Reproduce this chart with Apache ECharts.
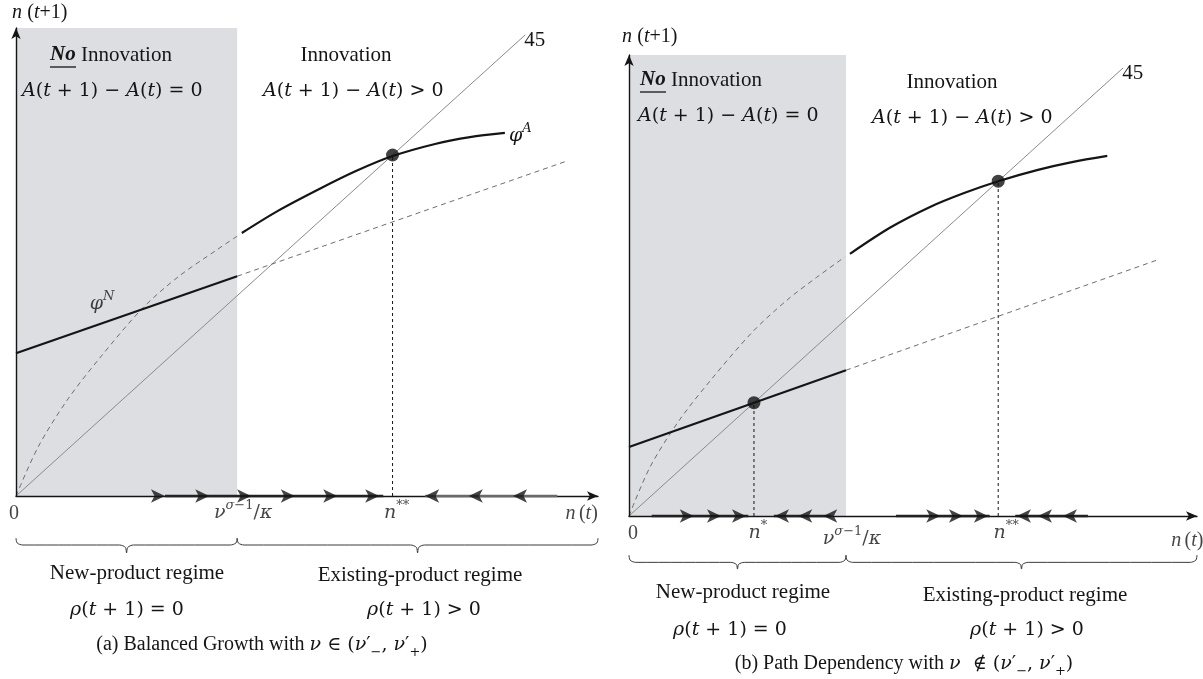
<!DOCTYPE html>
<html>
<head>
<meta charset="utf-8">
<script src="https://cdn.jsdelivr.net/npm/echarts@6/dist/echarts.min.js"></script>
<style>
  html, body { margin: 0; padding: 0; background: #fff; }
  #chart { width: 1203px; height: 679px; }
</style>
</head>
<body>
<div id="chart"></div>
<script>
// ---------- Panel (a): balanced growth ----------
const aThreshold = 3.8;                 // ν^{σ-1}/κ, end of the new-product regime
const aShadeTop = 8.88;
const aFortyFive = [[0, 0], [8.75, 8.75]];
const aPhiN = [[0, 2.71], [3.8, 4.17]];
const aPhiNDashed = [[3.8, 4.17], [9.45, 6.35]];
const aPhiADashed = [[0, 0], [0.38, 0.93], [0.88, 1.82], [1.44, 2.62], [2.18, 3.57], [2.8, 4.17], [3.45, 4.67], [3.8, 4.93]];
const aPhiA = [[3.88, 4.99], [4.5, 5.41], [5.22, 5.83], [5.85, 6.17], [6.47, 6.45], [7.2, 6.68], [7.8, 6.81], [8.4, 6.89]];
const aSteadyStates = [[6.47, 6.47]];
const aArrowsRight = [2.56, 3.32, 4.04, 4.79, 5.52, 6.24];
const aArrowsLeft = [7.03, 7.78, 8.54];
const aFlowRight = [[2.56, 6.31]];
const aFlowLeft = [[7.03, 9.3]];

// ---------- Panel (b): path dependency ----------
const bThreshold = 3.82;
const bShadeTop = 8.95;
const bFortyFive = [[0, 0], [8.7, 8.7]];
const bPhiN = [[0, 1.34], [3.82, 2.83]];
const bPhiNDashed = [[3.82, 2.83], [9.3, 4.97]];
const bPhiADashed = [[0, 0], [0.37, 0.95], [0.88, 1.85], [1.44, 2.64], [2.18, 3.58], [2.78, 4.19], [3.3, 4.63], [3.8, 5.03]];
const bPhiA = [[3.89, 5.09], [4.6, 5.6], [5.3, 6.0], [5.9, 6.27], [6.5, 6.5], [7.2, 6.72], [7.8, 6.87], [8.42, 6.99]];
const bSteadyStates = [[2.2, 2.2], [6.5, 6.5]];
const bArrowsRight = [1.14, 1.62, 2.06, 5.48, 5.88, 6.32];
const bArrowsLeft = [2.57, 2.98, 3.42, 6.83, 7.2, 7.64];
const bFlowRight = [[0.4, 2.1], [4.7, 6.35]];
const bFlowLeft = [[2.55, 3.56], [6.8, 8.08]];

// ---------- shared styling ----------
const INK = '#151515';
const SERIF = '"Liberation Serif", "Times New Roman", serif';
const MATH = '"DejaVu Serif", serif';

function tok(family, size, extra) {
  return Object.assign({ fontFamily: family, fontSize: size, color: INK, fill: INK }, extra || {});
}
const RICH = {
  t: tok(SERIF, 21, { lineHeight: 26 }),
  tb: tok(SERIF, 21, { fontStyle: 'italic', fontWeight: 'bold', lineHeight: 26 }),
  ax: tok(SERIF, 20, { lineHeight: 26 }),
  axi: tok(SERIF, 20, { fontStyle: 'italic', lineHeight: 26 }),
  cap: tok(SERIF, 20, { lineHeight: 26 }),
  m: tok(MATH, 19, { lineHeight: 28 }),
  mi: tok(MATH, 19, { fontStyle: 'italic', lineHeight: 28 }),
  sup: tok(MATH, 13, { verticalAlign: 'top', lineHeight: 14 }),
  supi: tok(MATH, 13, { fontStyle: 'italic', verticalAlign: 'top', lineHeight: 14 }),
  star: tok(MATH, 13, { verticalAlign: 'top', lineHeight: 18 }),
  sub: tok(MATH, 13, { verticalAlign: 'bottom', lineHeight: 14 })
};

const TXT_NU = '{mi|ν}{supi|σ}{sup|−1}{m|/}{mi|κ}';
const TXT_NSTAR = '{mi|n}{star|*}';
const TXT_NSTAR2 = '{mi|n}{star|**}';
const TXT_EQ = '{mi|A}{m|(}{mi|t}{m| + 1) − }{mi|A}{m|(}{mi|t}{m|) = 0}';
const TXT_GT = '{mi|A}{m|(}{mi|t}{m| + 1) − }{mi|A}{m|(}{mi|t}{m|) > 0}';
const TXT_RHO_EQ = '{mi|ρ}{m|(}{mi|t}{m| + 1) = 0}';
const TXT_RHO_GT = '{mi|ρ}{m|(}{mi|t}{m| + 1) > 0}';
const TXT_NT = '{axi|n} {ax|(}{axi|t}{ax|)}';

function line(g, data, style, extra) {
  return Object.assign({
    type: 'line', xAxisIndex: g, yAxisIndex: g, data: data, symbol: 'none',
    silent: true, animation: false, lineStyle: style, z: 3
  }, extra || {});
}

// curly brace under the axis spanning [x0, x1]
function brace(g, x0, x1, yTop, yLine, yTip) {
  const mid = (x0 + x1) / 2, c = 0.12;
  return line(g, [
    [x0, yTop], [x0 + 0.02, yLine + (yTop - yLine) * 0.3], [x0 + c, yLine],
    [mid - c, yLine], [mid - 0.02, yLine - (yLine - yTip) * 0.3], [mid, yTip],
    [mid + 0.02, yLine - (yLine - yTip) * 0.3], [mid + c, yLine],
    [x1 - c, yLine], [x1 - 0.02, yLine + (yTop - yLine) * 0.3], [x1, yTop]
  ], { color: '#3a3a3a', width: 1 }, { clip: false, smooth: 0.3 });
}

function panelSeries(g, p) {
  const s = [];
  const curve = { smooth: 0.3 };
  // shaded no-innovation zone
  s.push(line(g, [[0, p.shadeTop], [p.threshold, p.shadeTop]], { width: 0, opacity: 0 },
    { areaStyle: { color: '#dddee1', opacity: 1 }, z: 1 }));
  // 45-degree line
  s.push(line(g, p.fortyFive, { color: '#8a8a8a', width: 1 },
    { z: 2, endLabel: { show: true, formatter: '45', fontFamily: SERIF, fontSize: 21, color: INK, distance: 1, offset: [-2, 6] } }));
  // dashed continuations
  s.push(line(g, p.phiNDashed, { color: '#6e6e6e', width: 1, type: [5, 4] }, { z: 2 }));
  s.push(line(g, p.phiADashed, { color: '#6e6e6e', width: 1, type: [5, 4] }, Object.assign({ z: 2 }, curve)));
  // solid maps
  s.push(line(g, p.phiN, { color: INK, width: 2.2 }));
  const phiA = line(g, p.phiA, { color: INK, width: 2.2 }, curve);
  if (p.phiALabel) {
    phiA.endLabel = { show: true, formatter: '{mi|φ}{supi|A}', rich: RICH, distance: 4, offset: [0, 3] };
  }
  s.push(phiA);
  // projections of the steady states
  p.steady.forEach(function (pt) {
    s.push(line(g, [[pt[0], 0], pt], { color: INK, width: 1, type: [3, 3] }, { z: 3 }));
  });
  // flow along the horizontal axis
  p.flowRight.forEach(function (seg) {
    s.push(line(g, [[seg[0], 0], [seg[1], 0]], { color: '#222', width: 2.6 }, { z: 11, clip: false }));
  });
  p.flowLeft.forEach(function (seg) {
    s.push(line(g, [[seg[0], 0], [seg[1], 0]], { color: p.leftFlowColor, width: 2.6 }, { z: 11, clip: false }));
  });
  s.push({
    type: 'scatter', xAxisIndex: g, yAxisIndex: g, silent: true, animation: false, clip: false,
    symbol: 'arrow', symbolSize: [10, 14], symbolRotate: -90, itemStyle: { color: INK }, z: 12,
    data: p.arrowsRight.map(function (x) { return [x, 0]; })
  });
  s.push({
    type: 'scatter', xAxisIndex: g, yAxisIndex: g, silent: true, animation: false, clip: false,
    symbol: 'arrow', symbolSize: [10, 14], symbolRotate: 90, itemStyle: { color: INK }, z: 12,
    data: p.arrowsLeft.map(function (x) { return [x, 0]; })
  });
  // steady-state dots
  s.push({
    type: 'scatter', xAxisIndex: g, yAxisIndex: g, silent: true, animation: false,
    symbol: 'circle', symbolSize: 13, itemStyle: { color: '#111' }, z: 13, data: p.steady
  });
  // labels below the axis
  s.push({
    type: 'scatter', xAxisIndex: g, yAxisIndex: g, silent: true, animation: false, clip: false,
    symbolSize: 1, itemStyle: { color: 'rgba(0,0,0,0)' }, z: 14,
    label: { show: true, position: 'bottom', distance: 3, rich: RICH },
    data: p.axisLabels.map(function (l) {
      return { value: [l.x, 0], label: { formatter: l.text, offset: l.offset || [0, 0] } };
    })
  });
  // regime braces
  s.push(brace(g, 0, p.threshold, p.brace[0], p.brace[1], p.brace[2]));
  s.push(brace(g, p.threshold, 10, p.brace[0], p.brace[1], p.brace[2]));
  return s;
}

const panelA = {
  threshold: aThreshold, shadeTop: aShadeTop, fortyFive: aFortyFive,
  phiN: aPhiN, phiNDashed: aPhiNDashed, phiADashed: aPhiADashed, phiA: aPhiA, phiALabel: true,
  steady: aSteadyStates, arrowsRight: aArrowsRight, arrowsLeft: aArrowsLeft,
  flowRight: aFlowRight, flowLeft: aFlowLeft, leftFlowColor: '#6a6a6a',
  brace: [-0.8, -0.93, -1.08],
  axisLabels: [
    { x: 0, text: '{ax|0}', offset: [-2, 1] },
    { x: aThreshold, text: TXT_NU, offset: [6, 0] },
    { x: aSteadyStates[0][0], text: TXT_NSTAR2, offset: [4, 0] },
    { x: 9.72, text: TXT_NT, offset: [0, 1] }
  ]
};
const panelB = {
  threshold: bThreshold, shadeTop: bShadeTop, fortyFive: bFortyFive,
  phiN: bPhiN, phiNDashed: bPhiNDashed, phiADashed: bPhiADashed, phiA: bPhiA, phiALabel: false,
  steady: bSteadyStates, arrowsRight: bArrowsRight, arrowsLeft: bArrowsLeft,
  flowRight: bFlowRight, flowLeft: bFlowLeft, leftFlowColor: '#222',
  brace: [-0.76, -0.9, -1.03],
  axisLabels: [
    { x: 0, text: '{ax|0}', offset: [4, 1] },
    { x: bSteadyStates[0][0], text: TXT_NSTAR, offset: [4, 0] },
    { x: bThreshold, text: TXT_NU, offset: [6, 6] },
    { x: bSteadyStates[1][0], text: TXT_NSTAR2, offset: [8, 0] },
    { x: 9.83, text: TXT_NT, offset: [0, 8] }
  ]
};

function axisDef(g, max) {
  return {
    type: 'value', gridIndex: g, min: 0, max: max, z: 10,
    axisLine: { show: true, onZero: false, symbol: ['none', 'arrow'], symbolSize: [7, 11],
      lineStyle: { color: INK, width: 1.4 } },
    axisTick: { show: false }, axisLabel: { show: false }, splitLine: { show: false }
  };
}

function text(x, y, str, align) {
  return { type: 'text', x: x, y: y, silent: true, z: 20,
    style: { text: str, rich: RICH, align: align || 'left', verticalAlign: 'middle', fill: INK,
      fontFamily: SERIF, fontSize: 21 } };
}
function underline(x0, x1, y) {
  return { type: 'line', silent: true, z: 20, shape: { x1: x0, y1: y, x2: x1, y2: y },
    style: { stroke: INK, lineWidth: 1.3 } };
}

const chart = echarts.init(document.getElementById('chart'));
chart.setOption({
  animation: false,
  backgroundColor: '#ffffff',
  grid: [
    { left: 16, top: 28, width: 582, height: 468 },
    { left: 629, top: 55, width: 568, height: 461 }
  ],
  xAxis: [axisDef(0, 10), axisDef(1, 10)],
  yAxis: [axisDef(0, 8.88), axisDef(1, 8.95)],
  series: panelSeries(0, panelA).concat(panelSeries(1, panelB)).concat([{
    type: 'scatter', xAxisIndex: 0, yAxisIndex: 0, silent: true, animation: false,
    symbolSize: 1, itemStyle: { color: 'rgba(0,0,0,0)' }, z: 14,
    label: { show: true, position: 'inside', formatter: '{mi|φ}{supi|N}', rich: RICH },
    data: [[1.48, 3.64]]
  }]),
  graphic: [
    // panel (a) headings
    text(12, 13, '{axi|n} {ax|(}{axi|t}{ax|+1)}'),
    text(50, 55, '{tb|No} {t|Innovation}'),
    underline(50, 76, 67),
    text(22, 91, TXT_EQ),
    text(346, 55, '{t|Innovation}', 'center'),
    text(263, 91, TXT_GT),
    text(137, 573, '{t|New-product regime}', 'center'),
    text(420, 575, '{t|Existing-product regime}', 'center'),
    text(127, 610, TXT_RHO_EQ, 'center'),
    text(424, 610, TXT_RHO_GT, 'center'),
    text(262, 645, '{cap|(a) Balanced Growth with }{mi|ν}{m| ∈ (}{mi|ν}{m|′}{sub|−}{m|, }{mi|ν}{m|′}{sub|+}{m|)}', 'center'),
    // panel (b) headings
    text(622, 37, '{axi|n} {ax|(}{axi|t}{ax|+1)}'),
    text(640, 80, '{tb|No} {t|Innovation}'),
    underline(640, 666, 92),
    text(638, 116, TXT_EQ),
    text(952, 82, '{t|Innovation}', 'center'),
    text(872, 118, TXT_GT),
    text(743, 592, '{t|New-product regime}', 'center'),
    text(1025, 595, '{t|Existing-product regime}', 'center'),
    text(730, 630, TXT_RHO_EQ, 'center'),
    text(1027, 630, TXT_RHO_GT, 'center'),
    text(904, 664, '{cap|(b) Path Dependency with }{mi|ν}{m|  ∉ (}{mi|ν}{m|′}{sub|−}{m|, }{mi|ν}{m|′}{sub|+}{m|)}', 'center')
  ]
});
</script>
</body>
</html>
